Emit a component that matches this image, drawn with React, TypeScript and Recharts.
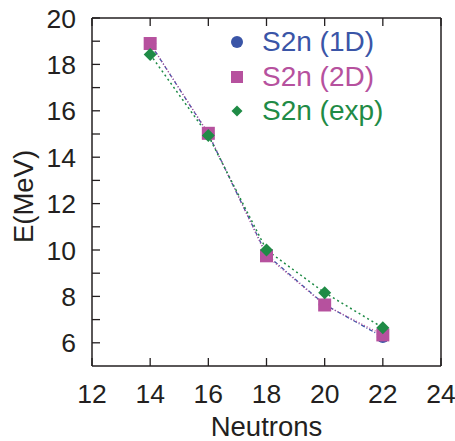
import React from 'react';
import { LineChart, Line, XAxis, YAxis, Legend, Label } from 'recharts';

// Two-neutron separation energies
const neutrons = [14, 16, 18, 20, 22];
const s2n1D = [18.9, 15.0, 9.8, 7.65, 6.25];
const s2n2D = [18.9, 15.03, 9.75, 7.63, 6.34];
const s2nExp = [18.43, 14.93, 10.0, 8.16, 6.65];

const xTicks = [12, 14, 16, 18, 20, 22, 24];
const yTicks = [6, 7, 8, 9, 10, 11, 12, 13, 14, 15, 16, 17, 18, 19, 20];
const yLabelled = [6, 8, 10, 12, 14, 16, 18, 20];

const data = neutrons.map((n, i) => ({
  n,
  d1: s2n1D[i],
  d2: s2n2D[i],
  exp: s2nExp[i],
}));

const BLUE = '#3a55a7';
const MAGENTA = '#b6519e';
const GREEN = '#1f8b46';
const INK = '#231f20';
const FONT = '"Liberation Sans", Arial, Helvetica, sans-serif';
const TICK = 8;
const TICK_FONT = 26.5;
const LABEL_FONT = 27.5;

const BottomTick = (p: any) => {
  const { x, y, payload } = p;
  return (
    <g>
      <line x1={x} y1={y} x2={x} y2={y - TICK} stroke={INK} strokeWidth={1.3} />
      <text x={x} y={y + 36.5} textAnchor="middle" fontSize={TICK_FONT} fontFamily={FONT} fill={INK}>
        {payload.value}
      </text>
    </g>
  );
};

const TopTick = (p: any) => {
  const { x, y } = p;
  return <line x1={x} y1={y} x2={x} y2={y + TICK} stroke={INK} strokeWidth={1.3} />;
};

const LeftTick = (p: any) => {
  const { x, y, payload } = p;
  const show = yLabelled.includes(payload.value);
  return (
    <g>
      <line x1={x} y1={y} x2={x + TICK} y2={y} stroke={INK} strokeWidth={1.3} />
      {show && (
        <text x={x - 16} y={y + 9.5} textAnchor="end" fontSize={TICK_FONT} fontFamily={FONT} fill={INK}>
          {payload.value}
        </text>
      )}
    </g>
  );
};

const RightTick = (p: any) => {
  const { x, y } = p;
  return <line x1={x} y1={y} x2={x - TICK} y2={y} stroke={INK} strokeWidth={1.3} />;
};

const SquareDot = (p: any) => {
  const { cx, cy } = p;
  if (cx == null || cy == null) return null;
  return <rect x={cx - 6.5} y={cy - 6.5} width={13} height={13} fill={MAGENTA} />;
};

const DiamondDot = (p: any) => {
  const { cx, cy } = p;
  if (cx == null || cy == null) return null;
  const r = 6.5;
  return <polygon points={`${cx},${cy - r} ${cx + r},${cy} ${cx},${cy + r} ${cx - r},${cy}`} fill={GREEN} />;
};

const legendItems = [
  { label: 'S2n (1D)', color: BLUE, shape: 'circle' },
  { label: 'S2n (2D)', color: MAGENTA, shape: 'square' },
  { label: 'S2n (exp)', color: GREEN, shape: 'diamond' },
];

const LegendBox = () => (
  <div style={{ fontFamily: FONT }}>
    {legendItems.map((it) => (
      <div key={it.label} style={{ display: 'flex', alignItems: 'center', height: 34.5 }}>
        <svg width={16} height={16} style={{ display: 'block' }}>
          {it.shape === 'circle' && <circle cx={8} cy={8} r={6} fill={it.color} />}
          {it.shape === 'square' && <rect x={2} y={2} width={12} height={12} fill={it.color} />}
          {it.shape === 'diamond' && <polygon points="8,2.5 13.5,8 8,13.5 2.5,8" fill={it.color} />}
        </svg>
        <span style={{ marginLeft: 17, fontSize: 28, color: it.color, lineHeight: '34px', whiteSpace: 'nowrap' }}>
          {it.label}
        </span>
      </div>
    ))}
  </div>
);

export default function App() {
  return (
    <div style={{ position: 'absolute', left: 0, top: 0, background: '#fff' }}>
      <LineChart width={455} height={441} data={data} margin={{ top: 17, right: 13, bottom: 0, left: 0 }}>
        <XAxis
          xAxisId="b"
          dataKey="n"
          type="number"
          domain={[12, 24]}
          ticks={xTicks}
          orientation="bottom"
          height={75}
          tickSize={0}
          tickMargin={0}
          tickLine={false}
          axisLine={{ stroke: INK, strokeWidth: 1.5 }}
          tick={<BottomTick />}
          interval={0}
        >
          <Label
            content={(props: any) => {
              const vb = props.viewBox;
              return (
                <text x={vb.x + vb.width / 2} y={436} textAnchor="middle" fontSize={LABEL_FONT} fontFamily={FONT} fill={INK}>
                  Neutrons
                </text>
              );
            }}
          />
        </XAxis>
        <XAxis
          xAxisId="t"
          dataKey="n"
          type="number"
          domain={[12, 24]}
          ticks={xTicks}
          orientation="top"
          height={1}
          tickSize={0}
          tickMargin={0}
          tickLine={false}
          axisLine={{ stroke: INK, strokeWidth: 1.5 }}
          tick={<TopTick />}
          interval={0}
        />
        <YAxis
          yAxisId="l"
          type="number"
          domain={[5, 20]}
          ticks={yTicks}
          width={92}
          tickSize={0}
          tickMargin={0}
          tickLine={false}
          axisLine={{ stroke: INK, strokeWidth: 1.5 }}
          tick={<LeftTick />}
          interval={0}
        >
          <Label
            content={() => {
              const cx = 32.5;
              const cy = 196.5;
              return (
                <text x={cx} y={cy} transform={`rotate(-90 ${cx} ${cy})`} textAnchor="middle" fontSize={LABEL_FONT} fontFamily={FONT} fill={INK}>
                  E(MeV)
                </text>
              );
            }}
          />
        </YAxis>
        <YAxis
          yAxisId="r"
          orientation="right"
          type="number"
          domain={[5, 20]}
          ticks={yTicks}
          width={1}
          tickSize={0}
          tickMargin={0}
          tickLine={false}
          axisLine={{ stroke: INK, strokeWidth: 1.5 }}
          tick={<RightTick />}
          interval={0}
        />
        <Legend
          layout="vertical"
          align="center"
          verticalAlign="middle"
          content={<LegendBox />}
          wrapperStyle={{ left: 229, top: 25, width: 'auto', height: 'auto' }}
        />
        <Line
          xAxisId="b"
          yAxisId="l"
          dataKey="d1"
          type="linear"
          stroke={BLUE}
          strokeWidth={1.3}
          strokeDasharray="4 2 1 2"
          dot={{ r: 6, fill: BLUE, stroke: 'none' }}
          activeDot={false}
          isAnimationActive={false}
        />
        <Line
          xAxisId="b"
          yAxisId="l"
          dataKey="d2"
          type="linear"
          stroke={MAGENTA}
          strokeWidth={1.3}
          strokeDasharray="1 2"
          dot={<SquareDot />}
          activeDot={false}
          isAnimationActive={false}
        />
        <Line
          xAxisId="b"
          yAxisId="l"
          dataKey="exp"
          type="linear"
          stroke={GREEN}
          strokeWidth={1.5}
          strokeDasharray="2 3"
          dot={<DiamondDot />}
          activeDot={false}
          isAnimationActive={false}
        />
      </LineChart>
    </div>
  );
}
